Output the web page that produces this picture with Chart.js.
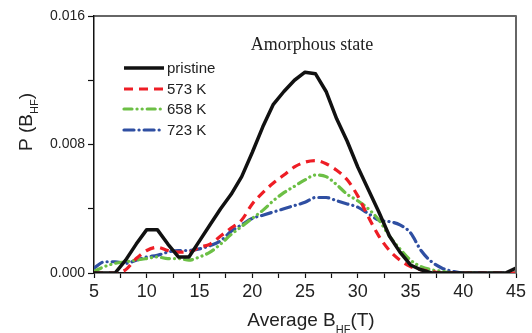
<!DOCTYPE html>
<html>
<head>
<meta charset="utf-8">
<script src="https://cdn.jsdelivr.net/npm/chart.js"></script>
<style>
	body { margin: 0; background: white; }
	#box { width: 532px; height: 333px; }
</style>
</head>
<body>
<div id="box"><canvas id="hfChart" width="532" height="333"></canvas></div>
<script>

// hyperfine field values (T)
const bField = [5, 6, 7, 8, 9, 10, 11, 12, 13, 14, 15, 16, 17, 18, 19, 20, 21, 22, 23, 24, 25,
	26, 27, 28, 29, 30, 31, 32, 33, 34, 35, 36, 37, 38, 39, 40, 41, 42, 43, 44, 45];

const pristine = [0, 0, 0, 0.0008, 0.0018, 0.0027, 0.0027, 0.0018, 0.001, 0.001, 0.002, 0.003, 0.004, 0.0049, 0.006, 0.0075,
	0.0091, 0.0105, 0.0113, 0.012, 0.0125, 0.0124, 0.0113, 0.0096, 0.0082, 0.0066, 0.0052, 0.0038, 0.0023, 0.0013, 0.0005,
	0.0002, 0, 0, 0, 0, 0, 0, 0, 0, 0.0003];
const k573 = [0, 0, 0, 0.0002, 0.0009, 0.0014, 0.0016, 0.0014, 0.0013, 0.0013, 0.0016, 0.0018, 0.0023, 0.0028, 0.0033, 0.0043,
	0.005, 0.0056, 0.0061, 0.0066, 0.0069, 0.007, 0.0068, 0.0064, 0.0058, 0.0048, 0.0035, 0.0023, 0.0014, 0.0008, 0.0004,
	0.0002, 0.0001, 0, 0, 0, 0, 0, 0, 0, 0];
const k658 = [0.0001, 0.0004, 0.0006, 0.0007, 0.0008, 0.0009, 0.001, 0.0009, 0.0009, 0.0008, 0.001, 0.0013, 0.0018, 0.0024, 0.0029, 0.0034,
	0.0039, 0.0045, 0.005, 0.0054, 0.0058, 0.0061, 0.006, 0.0055, 0.0049, 0.0045, 0.004, 0.0033, 0.0023, 0.0015, 0.0008,
	0.0004, 0.0002, 0.0001, 0, 0, 0, 0, 0, 0, 0];
const k723 = [0.0003, 0.0007, 0.0007, 0.0006, 0.0008, 0.001, 0.0011, 0.0013, 0.0014, 0.0014, 0.0015, 0.0017, 0.002, 0.0026, 0.003, 0.0034,
	0.0036, 0.0038, 0.004, 0.0042, 0.0044, 0.0047, 0.0047, 0.0045, 0.0043, 0.0041, 0.0037, 0.0033, 0.0032, 0.003, 0.0025,
	0.0014, 0.0007, 0.0003, 0.0001, 0, 0, 0, 0, 0, 0];

const seriesNames = ["pristine", "573 K", "658 K", "723 K"];
const yTicksShown = [0, 0.008, 0.016];

function pts(arr) {
	return bField.map((b, i) => ({x: b, y: arr[i]}));
}

const data = {
	datasets: [{
		label: seriesNames[0],
		data: pts(pristine),
		borderColor: '#111111',
		borderWidth: 3.5,
		tension: 0,
		borderJoinStyle: 'round'
	}, {
		label: seriesNames[1],
		data: pts(k573),
		borderColor: '#ee1d25',
		borderWidth: 3.2,
		borderDash: [9, 6],
		cubicInterpolationMode: 'monotone'
	}, {
		label: seriesNames[2],
		data: pts(k658),
		borderColor: '#6cbf45',
		borderWidth: 3.2,
		borderDash: [8, 5, 0.1, 5, 0.1, 5],
		borderCapStyle: 'round',
		cubicInterpolationMode: 'monotone'
	}, {
		label: seriesNames[3],
		data: pts(k723),
		borderColor: '#2f4fa2',
		borderWidth: 3.2,
		borderDash: [10, 5, 0.1, 5],
		borderCapStyle: 'round',
		cubicInterpolationMode: 'monotone'
	}]
};

// legend, title, axis titles with subscripts and the frame
const extras = {
	id: 'extras',
	afterDraw(chart) {
		const ctx = chart.ctx;
		const a = chart.chartArea;
		ctx.save();
		// frame top and right
		ctx.strokeStyle = '#333';
		ctx.lineWidth = 1.5;
		ctx.beginPath();
		ctx.moveTo(a.left, a.top);
		ctx.lineTo(a.right, a.top);
		ctx.stroke();
		ctx.strokeStyle = '#666';
		ctx.lineWidth = 2;
		ctx.beginPath();
		ctx.moveTo(a.right, a.top - 0.75);
		ctx.lineTo(a.right, a.bottom);
		ctx.stroke();

		// legend
		const rows = [68, 89, 109, 130];
		chart.data.datasets.forEach((ds, i) => {
			ctx.strokeStyle = ds.borderColor;
			ctx.lineWidth = ds.borderWidth;
			ctx.lineCap = ds.borderCapStyle || 'butt';
			ctx.setLineDash(ds.borderDash || []);
			ctx.beginPath();
			ctx.moveTo(124, rows[i]);
			ctx.lineTo(164, rows[i]);
			ctx.stroke();
			ctx.setLineDash([]);
			ctx.fillStyle = '#222';
			ctx.font = '15px "Liberation Sans", Arial, sans-serif';
			ctx.textBaseline = 'middle';
			ctx.textAlign = 'left';
			ctx.fillText(ds.label, 167, rows[i] + 1);
		});

		// inner title
		ctx.font = '18px "Liberation Serif", "Times New Roman", serif';
		ctx.fillStyle = '#222';
		ctx.textAlign = 'center';
		ctx.textBaseline = 'alphabetic';
		ctx.fillText('Amorphous state', 312, 50);

		// x axis title: Average B_HF(T)
		const big = '19px "Liberation Sans", Arial, sans-serif';
		const small = '11px "Liberation Sans", Arial, sans-serif';
		ctx.textAlign = 'left';
		ctx.font = big;
		const w1 = ctx.measureText('Average B').width;
		const w3 = ctx.measureText('(T)').width;
		ctx.font = small;
		const w2 = ctx.measureText('HF').width;
		let x = 311 - (w1 + w2 + w3) / 2;
		ctx.font = big;
		ctx.fillText('Average B', x, 326);
		x += w1;
		ctx.font = small;
		ctx.fillText('HF', x, 333);
		x += w2;
		ctx.font = big;
		ctx.fillText('(T)', x, 326);

		// y axis title: P (B_HF)
		ctx.translate(32, 122);
		ctx.rotate(-Math.PI / 2);
		ctx.font = big;
		const v1 = ctx.measureText('P (B').width;
		const v3 = ctx.measureText(')').width;
		ctx.font = small;
		const v2 = ctx.measureText('HF').width;
		let y = -(v1 + v2 + v3) / 2;
		ctx.font = big;
		ctx.fillText('P (B', y, 0);
		y += v1;
		ctx.font = small;
		ctx.fillText('HF', y, 6);
		y += v2;
		ctx.font = big;
		ctx.fillText(')', y, 0);
		ctx.restore();
	}
};

const config = {
	type: 'line',
	data,
	options: {
		responsive: false,
		animation: false,
		layout: {padding: {top: 16, right: 16, left: 0, bottom: 0}},
		elements: {point: {radius: 0}},
		plugins: {legend: {display: false}, tooltip: {enabled: false}},
		scales: {
			x: {
				type: 'linear',
				min: 5,
				max: 45,
				afterFit: (s) => { s.height = 60; },
				border: {display: true, color: '#111', width: 1.5},
				grid: {drawOnChartArea: false, drawTicks: true, tickLength: 5, color: '#111', tickWidth: 1.2},
				ticks: {
					stepSize: 2.5,
					autoSkip: false,
					maxRotation: 0,
					padding: 3,
					color: '#222',
					font: {family: '"Liberation Sans", Arial, sans-serif', size: 18},
					callback: (v) => (v % 5 === 0 ? v : '')
				}
			},
			y: {
				min: 0,
				max: 0.016,
				afterFit: (s) => { s.width = 94; },
				border: {display: true, color: '#111', width: 1.5},
				grid: {drawOnChartArea: false, drawTicks: true, tickLength: 6, color: '#111', tickWidth: 1.2},
				ticks: {
					stepSize: 0.004,
					autoSkip: false,
					padding: 3,
					color: '#222',
					font: {family: '"Liberation Sans", Arial, sans-serif', size: 14},
					callback: (v, i) => (i % 2 === 0 ? yTicksShown[i / 2].toFixed(3) : '')
				}
			}
		}
	},
	plugins: [extras]
};

var hfChart = new Chart(document.getElementById('hfChart'), config);
</script>
</body>
</html>
